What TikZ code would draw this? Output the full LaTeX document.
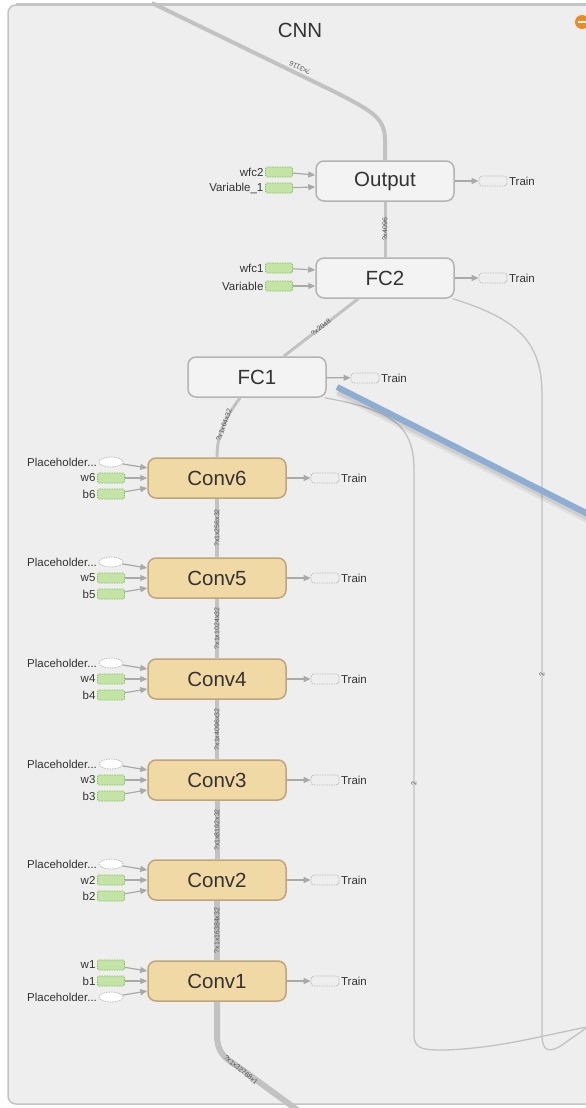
\documentclass[tikz,border=0pt]{standalone}
\usepackage{fontspec}
\setmainfont{Liberation Sans}
\usepackage{tikz}
\usetikzlibrary{arrows.meta,shapes.geometric}

\definecolor{panelbg}{HTML}{EEEEEE}
\definecolor{panelline}{HTML}{C4C4C4}
\definecolor{opfill}{HTML}{F3F3F3}
\definecolor{opline}{HTML}{B4B4B4}
\definecolor{convfill}{HTML}{F1D9A6}
\definecolor{convline}{HTML}{BFA67A}
\definecolor{varfill}{HTML}{C3E4A4}
\definecolor{varline}{HTML}{86C060}
\definecolor{sinkline}{HTML}{BDBDBD}
\definecolor{edgegrey}{HTML}{C2C2C2}
\definecolor{arrowgrey}{HTML}{A9A9A9}
\definecolor{txt}{HTML}{333333}
\definecolor{elbl}{HTML}{555555}
\definecolor{dragblue}{HTML}{8EADD2}
\definecolor{iconorange}{HTML}{EF8A22}

\begin{document}
\begin{tikzpicture}[x=1pt, y=-1pt,
		op_style/.style={rectangle,rounded corners=8pt,draw=opline,fill=opfill,line width=1.5pt,minimum width=138pt,minimum height=40pt,inner sep=0pt,text=txt,font=\fontsize{20.5}{22}\selectfont},
		conv_style/.style={op_style,draw=convline,fill=convfill},
		var_style/.style={rectangle,rounded corners=1.5pt,draw=varline,fill=varfill,dash pattern=on 1.5pt off 1pt,line width=0.8pt,minimum width=27pt,minimum height=10pt,inner sep=0pt},
		ph_style/.style={ellipse,draw=sinkline,fill=white,dash pattern=on 1.5pt off 1pt,line width=0.8pt,minimum width=24pt,minimum height=10pt,inner sep=0pt},
		sink_style/.style={rectangle,rounded corners=3pt,draw=sinkline,dash pattern=on 1.5pt off 1pt,line width=0.8pt,minimum width=28pt,minimum height=10pt,inner sep=0pt},
		lbl_style/.style={font=\fontsize{11.5}{13}\selectfont,text=txt,inner sep=1.5pt},
		elbl_style/.style={font=\fontsize{7}{8}\selectfont,text=elbl,inner sep=0pt},
		edge_style/.style={draw=edgegrey},
		side_style/.style={draw=edgegrey,line width=1.3pt},
		in_style/.style={draw=arrowgrey,line width=1.2pt,-{Triangle[length=7pt,width=6pt]}}]

		% panel
		\useasboundingbox (0,0) rectangle (586,1108);
		\fill[white] (0,0) rectangle (586,1108);
		\begin{scope}
		\clip (0,0) rectangle (586,1108);
		\draw[fill=panelbg,draw=panelline,line width=1.5pt,rounded corners=8pt] (8,5) rectangle (640,1104);
		\draw[draw=panelline,line width=3pt] (16,5) -- (640,5);
		\end{scope}
		\node[text=txt,font=\fontsize{20.5}{22}\selectfont] (title) at (300,30) {CNN};
		\node[circle,fill=iconorange,minimum size=14pt,inner sep=0pt] (collapse) at (582,22) {};
		\draw[white,line width=2.5pt] ([xshift=-4.5pt]collapse.center) -- ([xshift=4.5pt]collapse.center);

		% ops
		\node[op_style] (output) at (385,181) {Output};
		\node[op_style] (fc2) at (385,278) {FC2};
		\node[op_style] (fc1) at (257,377) {FC1};
		\node[conv_style] (conv6) at (217,478) {Conv6};
		\node[conv_style] (conv5) at (217,578) {Conv5};
		\node[conv_style] (conv4) at (217,679) {Conv4};
		\node[conv_style] (conv3) at (217,780) {Conv3};
		\node[conv_style] (conv2) at (217,880) {Conv2};
		\node[conv_style] (conv1) at (217,981) {Conv1};

		% inputs
		\node[var_style,label={[lbl_style]left:wfc2}] (wfc2) at (279,172) {};
		\node[var_style,label={[lbl_style]left:Variable\_1}] (var1) at (279,188) {};
		\node[var_style,label={[lbl_style]left:wfc1}] (wfc1) at (279,268) {};
		\node[var_style,label={[lbl_style]left:Variable}] (var0) at (279,286) {};
		\node[ph_style,label={[lbl_style]left:Placeholder...}] (ph6) at (111,462) {};
		\node[var_style,label={[lbl_style]left:w6}] (w6) at (111,478) {};
		\node[var_style,label={[lbl_style]left:b6}] (b6) at (111,494) {};
		\node[ph_style,label={[lbl_style]left:Placeholder...}] (ph5) at (111,562) {};
		\node[var_style,label={[lbl_style]left:w5}] (w5) at (111,578) {};
		\node[var_style,label={[lbl_style]left:b5}] (b5) at (111,594) {};
		\node[ph_style,label={[lbl_style]left:Placeholder...}] (ph4) at (111,663) {};
		\node[var_style,label={[lbl_style]left:w4}] (w4) at (111,679) {};
		\node[var_style,label={[lbl_style]left:b4}] (b4) at (111,695) {};
		\node[ph_style,label={[lbl_style]left:Placeholder...}] (ph3) at (111,764) {};
		\node[var_style,label={[lbl_style]left:w3}] (w3) at (111,780) {};
		\node[var_style,label={[lbl_style]left:b3}] (b3) at (111,796) {};
		\node[ph_style,label={[lbl_style]left:Placeholder...}] (ph2) at (111,864) {};
		\node[var_style,label={[lbl_style]left:w2}] (w2) at (111,880) {};
		\node[var_style,label={[lbl_style]left:b2}] (b2) at (111,896) {};
		\node[var_style,label={[lbl_style]left:w1}] (w1) at (111,965) {};
		\node[var_style,label={[lbl_style]left:b1}] (b1) at (111,981) {};
		\node[ph_style,label={[lbl_style]left:Placeholder...}] (ph1) at (111,997) {};

		% train sinks
		\node[sink_style,label={[lbl_style]right:Train}] (t_out) at (493,181) {};
		\node[sink_style,label={[lbl_style]right:Train}] (t_fc2) at (493,278) {};
		\node[sink_style,label={[lbl_style]right:Train}] (t_fc1) at (365,378) {};
		\node[sink_style,label={[lbl_style]right:Train}] (t6) at (325,478) {};
		\node[sink_style,label={[lbl_style]right:Train}] (t5) at (325,578) {};
		\node[sink_style,label={[lbl_style]right:Train}] (t4) at (325,679) {};
		\node[sink_style,label={[lbl_style]right:Train}] (t3) at (325,780) {};
		\node[sink_style,label={[lbl_style]right:Train}] (t2) at (325,880) {};
		\node[sink_style,label={[lbl_style]right:Train}] (t1) at (325,981) {};

		\coordinate (top_in) at (152,3);
		\coordinate (bottom_in) at (300,1112);
		\coordinate (exit_a) at (592,1024);
		\coordinate (exit_b) at (592,1026);
		\coordinate (drag_a) at (337,387);
		\coordinate (drag_b) at (592,516);

		% data edges
		\draw[edge_style,line width=4pt] (top_in) -- (335,92) .. controls (372,111) and (385,118) .. (385,140) -- (output.north);
		\node[elbl_style,rotate=154] (lbl_top) at (300,68) {?x3116};
		\draw[edge_style,line width=3pt] (output) edge node[elbl_style,rotate=90]{?x4096} (fc2);
		\draw[edge_style,line width=3pt] (fc2) edge node[elbl_style,rotate=38]{?x2048} (fc1);
		\draw[edge_style,line width=3pt] ([xshift=-17pt]fc1.south) .. controls (224,420) and (217,435) .. (conv6.north);
		\node[elbl_style,rotate=70] (lbl_fc1) at (224,425) {?x1x64x32};
		\draw[edge_style,line width=3.5pt] (conv6) edge node[elbl_style,rotate=90]{?x1x256x32} (conv5);
		\draw[edge_style,line width=4pt] (conv5) edge node[elbl_style,rotate=90]{?x1x1024x32} (conv4);
		\draw[edge_style,line width=4.5pt] (conv4) edge node[elbl_style,rotate=90]{?x1x4096x32} (conv3);
		\draw[edge_style,line width=5pt] (conv3) edge node[elbl_style,rotate=90]{?x1x8192x32} (conv2);
		\draw[edge_style,line width=6pt] (conv2) edge node[elbl_style,rotate=90]{?x1x16384x32} (conv1);
		\draw[edge_style,line width=6pt] (conv1.south) -- (217,1035) .. controls (217,1052) and (224,1058) .. (240,1068) -- (bottom_in);
		\node[elbl_style,rotate=-40] (lbl_bot) at (241,1070) {?x1x32768x1};

		% side edges
		\draw[side_style] ([xshift=-2pt]fc2.south east) .. controls (522,320) and (542,345) .. (542,395) -- (542,1035) .. controls (542,1052) and (550,1053) .. (562,1045) -- (exit_a);
		\node[elbl_style,rotate=90] (lbl_a) at (542,675) {2};
		\draw[side_style] ([xshift=-2pt]fc1.south east) .. controls (392,410) and (414,425) .. (414,470) -- (414,1035) .. controls (414,1050) and (425,1050) .. (445,1050) .. controls (500,1048) and (540,1036) .. (exit_b);
		\node[elbl_style,rotate=90] (lbl_b) at (414,784) {2};

		% input arrows
		\draw[in_style] (wfc2) -- ([yshift=6pt]output.west);
		\draw[in_style] (var1) -- ([yshift=-6pt]output.west);
		\draw[in_style] (wfc1) -- ([yshift=8pt]fc2.west);
		\draw[in_style] (var0) -- ([yshift=-8pt]fc2.west);
		\draw[in_style] (ph6) -- ([yshift=10pt]conv6.west);
		\draw[in_style] (w6) -- (conv6.west);
		\draw[in_style] (b6) -- ([yshift=-10pt]conv6.west);
		\draw[in_style] (ph5) -- ([yshift=10pt]conv5.west);
		\draw[in_style] (w5) -- (conv5.west);
		\draw[in_style] (b5) -- ([yshift=-10pt]conv5.west);
		\draw[in_style] (ph4) -- ([yshift=10pt]conv4.west);
		\draw[in_style] (w4) -- (conv4.west);
		\draw[in_style] (b4) -- ([yshift=-10pt]conv4.west);
		\draw[in_style] (ph3) -- ([yshift=10pt]conv3.west);
		\draw[in_style] (w3) -- (conv3.west);
		\draw[in_style] (b3) -- ([yshift=-10pt]conv3.west);
		\draw[in_style] (ph2) -- ([yshift=10pt]conv2.west);
		\draw[in_style] (w2) -- (conv2.west);
		\draw[in_style] (b2) -- ([yshift=-10pt]conv2.west);
		\draw[in_style] (w1) -- ([yshift=10pt]conv1.west);
		\draw[in_style] (b1) -- (conv1.west);
		\draw[in_style] (ph1) -- ([yshift=-10pt]conv1.west);

		% train arrows
		\draw[in_style] (output) -- (t_out);
		\draw[in_style] (fc2) -- (t_fc2);
		\draw[in_style] (fc1) -- (t_fc1);
		\draw[in_style] (conv6) -- (t6);
		\draw[in_style] (conv5) -- (t5);
		\draw[in_style] (conv4) -- (t4);
		\draw[in_style] (conv3) -- (t3);
		\draw[in_style] (conv2) -- (t2);
		\draw[in_style] (conv1) -- (t1);

		% drag line
		\draw[black,opacity=0.06,line width=12pt] ([shift={(2pt,-4pt)}]drag_a) -- ([shift={(2pt,-4pt)}]drag_b);
		\draw[black,opacity=0.08,line width=8pt] ([shift={(1pt,-3pt)}]drag_a) -- ([shift={(1pt,-3pt)}]drag_b);
		\draw[dragblue,line width=6pt] (drag_a) -- (drag_b);

		\end{tikzpicture}
\end{document}
